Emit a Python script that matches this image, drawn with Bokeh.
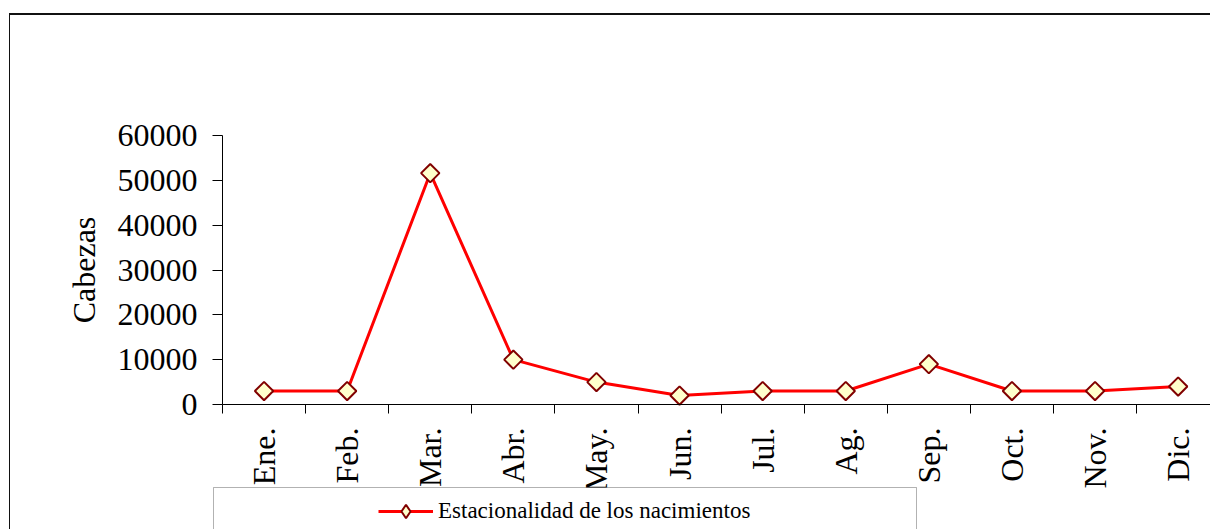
import math
from bokeh.plotting import figure
from bokeh.models import (Range1d, FixedTicker, Legend, LegendItem, NumeralTickFormatter,
                          BoxAnnotation)
from bokeh.embed import file_html
from bokeh.resources import INLINE

# ---- data ----
months = ["Ene.", "Feb.", "Mar.", "Abr.", "May.", "Jun.", "Jul.", "Ag.", "Sep.", "Oct.", "Nov.", "Dic."]
births = [3000, 3000, 51600, 10000, 5000, 2000, 3000, 3000, 9000, 3000, 3000, 4000]
y_ticks = [0, 10000, 20000, 30000, 40000, 50000, 60000]
series_name = "Estacionalidad de los nacimientos"
y_title = "Cabezas"

xs = [i + 0.5 for i in range(len(months))]          # category centres
bounds = list(range(len(months) + 1))                # category boundaries

FONT = "Liberation Serif"
OFF_X, OFF_Y = 10, 15                                # css margin + border
W, H = 1211 - OFF_X, 531 - OFF_Y
AX_X, AX_TOP, AX_Y = 212, 120, 389                   # canvas px of the axes
CAT_W = 83.1                                         # px per category
Y_PER_PX = 60000.0 / (AX_Y - AX_TOP)

def xd(px):
    return (px - AX_X) / CAT_W

def yd(py):
    return (AX_Y - py) * Y_PER_PX

p = figure(width=W, height=H, output_backend="svg", toolbar_location=None,
           x_range=Range1d(xd(0), xd(W)), y_range=Range1d(yd(H), yd(0)),
           min_border=0)
p.styles = {"margin-left": "9px", "margin-top": "13px",
            "border-left": "1px solid #111", "border-top": "2px solid #111"}
p.outline_line_color = None
p.grid.visible = False

# y axis
ya = p.yaxis[0]
ya.fixed_location = 0
ya.bounds = (0, 60000)
ya.ticker = FixedTicker(ticks=y_ticks)
ya.formatter = NumeralTickFormatter(format="0")
ya.major_tick_out = 10
ya.major_tick_in = 0
ya.minor_tick_out = 0
ya.minor_tick_in = 0
ya.major_label_text_font = FONT
ya.major_label_text_font_size = "32px"
ya.major_label_text_color = "black"
ya.major_label_standoff = 15
ya.axis_label = y_title
ya.axis_label_text_font = FONT
ya.axis_label_text_font_size = "32px"
ya.axis_label_text_font_style = "normal"
ya.axis_label_text_color = "black"
ya.axis_label_standoff = 13
ya.axis_line_color = "black"
ya.major_tick_line_color = "black"

# x axis
xa = p.xaxis[0]
xa.fixed_location = 0
xa.bounds = (0, len(months))
xa.ticker = FixedTicker(ticks=xs, minor_ticks=bounds)
xa.major_label_overrides = {x: m for x, m in zip(xs, months)}
xa.major_tick_out = 0
xa.major_tick_in = 0
xa.minor_tick_out = 9
xa.minor_tick_in = 0
xa.minor_tick_line_color = "black"
xa.axis_line_color = "black"
xa.major_label_orientation = math.pi / 2
xa.major_label_text_font = FONT
xa.major_label_text_font_size = "32px"
xa.major_label_text_color = "black"
xa.major_label_standoff = 14

# series
r_line = p.line(xs, births, line_color="#FF0000", line_width=3)
r_sc = p.scatter(xs, births, marker="square", angle=math.pi / 4, size=13,
                 fill_color="#FFFFCC", line_color="#800000", line_width=2)
# same markers as a diamond, used only for the legend swatch
r_key = p.scatter(xs, births, marker="diamond", size=14,
                  fill_color="#FFFFCC", line_color="#800000", line_width=2, visible=False)

# legend box
p.add_layout(BoxAnnotation(left=xd(203), right=xd(906), top=yd(472), bottom=yd(H + 60),
                           fill_color="white", fill_alpha=1, line_color="black", line_width=1))

legend = Legend(items=[LegendItem(label=series_name, renderers=[r_line, r_key])],
                location=(368, H - 513),
                padding=0, spacing=0, margin=0,
                border_line_color=None, background_fill_alpha=0,
                glyph_width=55, glyph_height=34, label_height=30,
                label_standoff=5, label_text_font=FONT, label_text_font_size="23px",
                label_text_color="black")
p.add_layout(legend)

open("out.html", "w").write(file_html(p, INLINE))
